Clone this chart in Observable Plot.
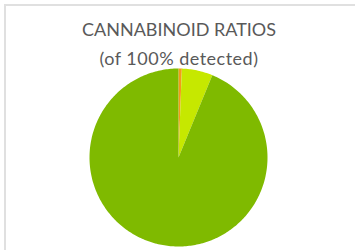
<!DOCTYPE html>
<html>
<head>
<meta charset="utf-8">
<script src="https://cdn.jsdelivr.net/npm/d3@7"></script>
<script src="https://cdn.jsdelivr.net/npm/@observablehq/plot@0.6"></script>
<style>
  html, body { margin: 0; padding: 0; background: #fff; }
  #wrap { position: relative; width: 355px; height: 250px; overflow: hidden; }
  #frame { position: absolute; left: 4px; top: 4px; width: 400px; height: 300px; border: 2px solid #e0e0e0; box-sizing: border-box; }
  .t { position: absolute; left: 0; width: 358px; text-align: center; font-family: Lato, "Liberation Sans", sans-serif; font-size: 18px; line-height: 18px; color: #595959; white-space: nowrap; }
  #chart { position: absolute; left: 0; top: 0; }
</style>
</head>
<body>
<div id="wrap">
  <div id="frame"></div>
  <div id="chart"></div>
  <div class="t" style="top:20px">CANNABINOID RATIOS</div>
  <div class="t" style="top:49px; letter-spacing:0.5px">(of 100% detected)</div>
</div>
<script>
const names = ["CBN", "CBD", "THC"];
const shares = [0.6, 5.6, 93.8];
const colors = ["#f59a1a", "#c6e800", "#7fba00"];

const arcs = d3.pie().sort(null).value(d => d)(shares);
const pts = [];
arcs.forEach((a, i) => {
  const n = Math.max(2, Math.ceil((a.endAngle - a.startAngle) / (Math.PI / 180)));
  pts.push({name: names[i], x: 0, y: 0});
  for (let k = 0; k <= n; k++) {
    const t = a.startAngle + (a.endAngle - a.startAngle) * k / n;
    pts.push({name: names[i], x: Math.sin(t), y: Math.cos(t)});
  }
  pts.push({name: names[i], x: 0, y: 0});
});

const chart = Plot.plot({
  width: 355,
  height: 250,
  marginLeft: 89,
  marginRight: 88,
  marginTop: 68,
  marginBottom: 4,
  x: {domain: [-1, 1], axis: null},
  y: {domain: [-1, 1], axis: null},
  color: {type: "ordinal", domain: names, range: colors},
  style: {background: "transparent"},
  marks: [
    Plot.line(pts, {x: "x", y: "y", z: "name", fill: "name", stroke: null, curve: "linear-closed"})
  ]
});
document.getElementById("chart").appendChild(chart);
</script>
</body>
</html>
